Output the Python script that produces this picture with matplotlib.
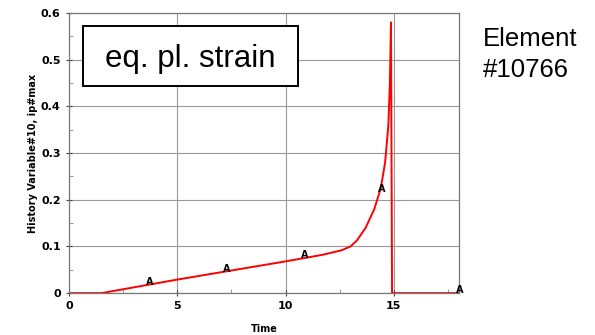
import matplotlib.pyplot as plt
from matplotlib.patches import Rectangle
from matplotlib.ticker import MultipleLocator

# curve
time = [0, 1.5, 5, 10, 11.7, 12.6, 13.0, 13.3, 13.7, 14.1, 14.4, 14.6, 14.75, 14.82, 14.87, 14.92, 18]
strain = [0, 0, 0.029, 0.068, 0.082, 0.092, 0.100, 0.113, 0.14, 0.18, 0.225, 0.28, 0.36, 0.45, 0.58, 0.0, 0.0]

# "A" labels along the curve
mark_t = [3.73, 7.28, 10.87, 14.42, 18.06]
mark_v = [0.024, 0.051, 0.081, 0.223, 0.006]

fig = plt.figure(figsize=(5.95, 3.35), dpi=100)
ax = fig.add_axes([0.116, 0.125, 0.655, 0.836])

ax.plot(time, strain, color='red', lw=1.4)
for t, v in zip(mark_t, mark_v):
    ax.text(t, v, 'A', fontsize=7, fontweight='bold', ha='center', va='center')

ax.set_xlim(0, 18)
ax.set_ylim(0, 0.6)
ax.xaxis.set_major_locator(MultipleLocator(5))
ax.xaxis.set_minor_locator(MultipleLocator(2.5))
ax.yaxis.set_major_locator(MultipleLocator(0.1))
ax.yaxis.set_minor_locator(MultipleLocator(0.05))
ax.set_yticks([0, 0.1, 0.2, 0.3, 0.4, 0.5, 0.6])
ax.set_yticklabels(['0', '0.1', '0.2', '0.3', '0.4', '0.5', '0.6'])
ax.tick_params(which='major', direction='inout', length=5, labelsize=8, color='#444')
ax.tick_params(which='minor', direction='in', length=3, color='#888')
for lab in ax.get_xticklabels() + ax.get_yticklabels():
    lab.set_fontweight('bold')
ax.grid(True, which='major', color='#999', lw=0.8)
for s in ax.spines.values():
    s.set_color('#777')
    s.set_linewidth(0.9)

ax.set_xlabel('Time', fontsize=7, fontweight='bold', labelpad=9)
ax.set_ylabel('History Variable#10, ip#max', fontsize=7, fontweight='bold', labelpad=2)

# title box
ax.add_patch(Rectangle((0.036, 0.739), 0.551, 0.215, transform=ax.transAxes,
                       fc='white', ec='black', lw=1.4, zorder=5))
ax.text(0.311, 0.835, 'eq. pl. strain', fontsize=22.5, ha='center', va='center',
        family='Liberation Sans', transform=ax.transAxes, zorder=6)

fig.text(0.811, 0.92, 'Element\n#10766', fontsize=18.5, family='Liberation Sans',
         ha='left', va='top', linespacing=1.4)

fig.savefig('out.png', dpi=100)
